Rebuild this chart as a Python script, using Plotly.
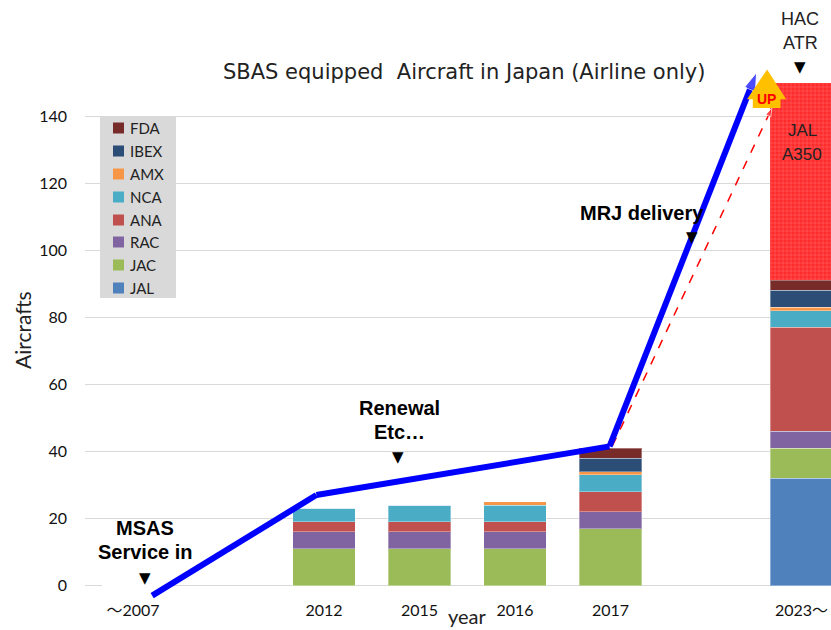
import plotly.graph_objects as go

# ---- data ----
x_labels = ["～2007", "2012", "2015", "2016", "2017", "2023～"]
x_pos = [0, 2, 3, 4, 5, 7]
series_names = ["JAL", "JAC", "RAC", "ANA", "NCA", "AMX", "IBEX", "FDA"]
JAL = [0, 0, 0, 0, 0, 32]
JAC = [0, 11, 11, 11, 17, 9]
RAC = [0, 5, 5, 5, 5, 5]
ANA = [0, 3, 3, 3, 6, 31]
NCA = [0, 4, 5, 5, 5, 5]
AMX = [0, 0, 0, 1, 1, 1]
IBEX = [0, 0, 0, 0, 4, 5]
FDA = [0, 0, 0, 0, 3, 3]
A350 = [0, 0, 0, 0, 0, 59]
colors = ["#4F81BD", "#9BBB59", "#8064A2", "#C0504D", "#4BACC6", "#F79646", "#2C4D75", "#772C2A"]

# trend (blue) and forecast (red dashed) lines
trend_x = [0.2, 1.92, 4.99, 6.53]
trend_y = [-3, 27, 41.5, 153]
fore_x = [5.02, 6.69]
fore_y = [41.7, 142.4]

y_ticks = [0, 20, 40, 60, 80, 100, 120, 140]

W, H = 831, 630
ML, MR, MT, MB = 85, 0, 49, 31
PW, PH = W - ML - MR, H - MT - MB

def px(xp):
    return (xp - ML) / PW

def py(yp):
    return (H - MB - yp) / PH

fig = go.Figure()
values = [JAL, JAC, RAC, ANA, NCA, AMX, IBEX, FDA]
for name, vals, col in zip(series_names, values, colors):
    fig.add_trace(go.Bar(
        x=x_pos, y=vals, name=name, width=0.65, showlegend=False,
        marker=dict(color=col, line=dict(color="rgba(255,255,255,0.35)", width=1)),
    ))
fig.add_trace(go.Bar(
    x=x_pos, y=A350, name="JAL A350", width=0.65, showlegend=False,
    marker=dict(color="#FF2A2A", line=dict(width=0),
                pattern=dict(shape="+", fgcolor="rgba(255,255,255,0.55)", size=4, solidity=0.25)),
))

fig.add_trace(go.Scatter(
    x=fore_x, y=fore_y, mode="lines+markers", showlegend=False,
    line=dict(color="#FF0000", width=1.5, dash="dash"),
    marker=dict(symbol="arrow", angleref="previous", size=[0, 9], color="#FF0000"),
))
fig.add_trace(go.Scatter(
    x=trend_x, y=trend_y, mode="lines+markers", showlegend=False,
    line=dict(color="#0000FF", width=6),
    marker=dict(symbol="arrow", angleref="previous", size=[0, 0, 0, 19], color="#0000FF"),
))

shapes = []
# UP arrow (decorative block arrow)
up_path = ("M 6.49 142.4 L 6.49 145.0 L 6.43 145.0 L 6.64 153.9 "
           "L 6.84 145.0 L 6.78 145.0 L 6.78 142.4 Z")
shapes.append(dict(type="path", path=up_path, xref="x", yref="y",
                   fillcolor="#FFC000", line=dict(width=0), layer="above"))

# manual legend
shapes.append(dict(type="rect", xref="paper", yref="paper", x0=px(100), x1=px(176),
                   y0=py(298), y1=py(116), fillcolor="#D9D9D9", line=dict(width=0), layer="above"))
legend_order = ["FDA", "IBEX", "AMX", "NCA", "ANA", "RAC", "JAC", "JAL"]
legend_y = [128, 151, 174, 197, 220, 242, 265, 288]

ann = []
for nm, ly in zip(legend_order, legend_y):
    col = colors[series_names.index(nm)]
    shapes.append(dict(type="rect", xref="paper", yref="paper", x0=px(113), x1=px(124),
                       y0=py(ly + 5.5), y1=py(ly - 5.5), fillcolor=col, line=dict(width=0), layer="above"))
    ann.append(dict(x=px(128), y=py(ly), xref="paper", yref="paper", text=nm, showarrow=False,
                    xanchor="left", yanchor="middle",
                    font=dict(size=15, color="#222222", family="Lato")))

def txt(x, y, t, size=18, bold=False, color="#000000", family="Liberation Sans, Arial"):
    ann.append(dict(x=px(x), y=py(y), xref="paper", yref="paper",
                    text=("<b>%s</b>" % t) if bold else t,
                    xanchor="center", yanchor="middle",
                    showarrow=False, font=dict(size=size, color=color, family=family)))

txt(766, 99, "UP", size=14, bold=True, color="#FF0000")
txt(800, 19, "HAC", size=18, color="#222222")
txt(800, 43, "ATR", size=18, color="#222222")
txt(800, 67, "▼", size=15, family="DejaVu Sans")
txt(802, 131, "JAL", size=17, color="#222222")
txt(802, 154, "A350", size=17, color="#222222")
txt(642, 213, "MRJ delivery", size=20, bold=True)
txt(692, 237, "▼", size=15, family="DejaVu Sans")
txt(399, 408, "Renewal", size=20, bold=True)
txt(399, 432, "Etc…", size=20, bold=True)
txt(398, 457, "▼", size=15, family="DejaVu Sans")
txt(145, 528, "MSAS", size=20, bold=True)
txt(145, 552, "Service in", size=20, bold=True)
txt(145, 578, "▼", size=15, family="DejaVu Sans")

txt(464, 72, "SBAS equipped  Aircraft in Japan (Airline only)", size=21, color="#222222",
    family="DejaVu Sans")
txt(467, 616, "year", size=20, color="#222222", family="Lato")
ann.append(dict(x=px(22), y=py(330), xref="paper", yref="paper",
                text="Aircrafts", showarrow=False, textangle=-90,
                xanchor="center", yanchor="middle",
                font=dict(size=21, color="#222222", family="Lato")))

fig.update_layout(
    width=W, height=H,
    margin=dict(l=ML, r=MR, t=MT, b=MB),
    barmode="stack",
    plot_bgcolor="white", paper_bgcolor="white",
    annotations=ann, shapes=shapes,
    showlegend=False,
    font=dict(family="Lato", color="#222222"),
)
fig.update_xaxes(range=[-0.503, 7.309], tickvals=x_pos, ticktext=x_labels,
                 showgrid=False, zeroline=False, showline=False, ticks="",
                 tickfont=dict(size=16, color="#111111", family="Lato, 'Noto Sans CJK JP'"))
fig.update_yaxes(range=[-4, 160], tickvals=y_ticks, showgrid=True, gridcolor="#D9D9D9",
                 gridwidth=1, zeroline=True, zerolinecolor="#D9D9D9", zerolinewidth=1,
                 showline=False, ticks="", ticklabelstandoff=17,
                 tickfont=dict(size=16, color="#111111", family="Lato"))

fig.write_html("out.html", config={"displayModeBar": False},
               post_script="document.body.style.margin='0px';")
